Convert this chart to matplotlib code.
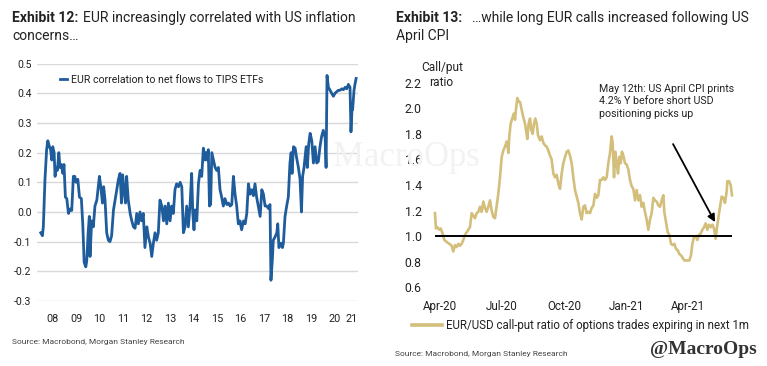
import matplotlib
matplotlib.use("Agg")
import matplotlib.pyplot as plt
import matplotlib.dates as mdates
import numpy as np
import pandas as pd

plt.rcParams['font.family'] = ['Roboto', 'DejaVu Sans']
NARROW = ['Liberation Sans Narrow', 'Roboto', 'DejaVu Sans']

blue = '#1f5c9c'
gold = '#d3bf7b'
text_color = '#222222'
grid_color = '#d9d9d9'

# ---- Exhibit 12 data: EUR correlation to TIPS ETF flows (decimal years) ----
corr_years = [
    2007.99, 2008.06, 2008.10, 2008.17, 2008.24, 2008.29, 2008.36, 2008.41, 2008.46, 2008.50,
    2008.56, 2008.60, 2008.64, 2008.70, 2008.76, 2008.81, 2008.87, 2008.93, 2008.98, 2009.04,
    2009.10, 2009.17, 2009.24, 2009.31, 2009.38, 2009.44, 2009.49, 2009.57, 2009.64, 2009.72,
    2009.78, 2009.84, 2009.91, 2009.95, 2010.01, 2010.06, 2010.09, 2010.16, 2010.23, 2010.30,
    2010.38, 2010.43, 2010.49, 2010.55, 2010.62, 2010.67, 2010.73, 2010.80, 2010.87, 2010.94,
    2011.01, 2011.09, 2011.16, 2011.23, 2011.30, 2011.37, 2011.43, 2011.48, 2011.54, 2011.60,
    2011.65, 2011.72, 2011.80, 2011.87, 2011.94, 2012.01, 2012.08, 2012.15, 2012.22, 2012.29,
    2012.36, 2012.43, 2012.51, 2012.58, 2012.65, 2012.72, 2012.79, 2012.86, 2012.93, 2013.00,
    2013.07, 2013.15, 2013.22, 2013.29, 2013.36, 2013.43, 2013.50, 2013.57, 2013.64, 2013.71,
    2013.78, 2013.86, 2013.93, 2014.00, 2014.07, 2014.14, 2014.21, 2014.28, 2014.35, 2014.42,
    2014.47, 2014.52, 2014.57, 2014.64, 2014.71, 2014.78, 2014.85, 2014.92, 2014.99, 2015.03,
    2015.09, 2015.13, 2015.18, 2015.23, 2015.28, 2015.35, 2015.42, 2015.49, 2015.56, 2015.63,
    2015.70, 2015.77, 2015.84, 2015.92, 2015.99, 2016.06, 2016.13, 2016.20, 2016.27, 2016.34,
    2016.41, 2016.48, 2016.55, 2016.63, 2016.70, 2016.77, 2016.84, 2016.91, 2016.98, 2017.05,
    2017.12, 2017.19, 2017.26, 2017.34, 2017.41, 2017.48, 2017.55, 2017.62, 2017.69, 2017.76,
    2017.80, 2017.86, 2017.90, 2017.97, 2018.05, 2018.09, 2018.14, 2018.22, 2018.29, 2018.33,
    2018.40, 2018.47, 2018.54, 2018.61, 2018.66, 2018.70, 2018.76, 2018.83, 2018.90, 2018.97,
    2019.04, 2019.10, 2019.15, 2019.21, 2019.30, 2019.35, 2019.41, 2019.47, 2019.54, 2019.61,
    2019.68, 2019.75, 2019.82, 2019.89, 2019.96, 2020.03, 2020.11, 2020.15, 2020.19, 2020.25,
    2020.32, 2020.39, 2020.46, 2020.53, 2020.60, 2020.67, 2020.74, 2020.82, 2020.89, 2020.96,
    2021.03, 2021.10, 2021.17, 2021.21, 2021.26, 2021.28, 2021.34, 2021.38, 2021.43,
]
corr_values = [
    -0.07, -0.08, -0.05, 0.11, 0.21, 0.24, 0.22, 0.21, 0.175, 0.22,
    0.20, 0.12, 0.15, 0.14, 0.20, 0.15, 0.16, 0.13, 0.16, 0.05,
    0.045, -0.005, 0.01, 0.005, 0.12, 0.12, 0.10, 0.11, 0.05, 0.045,
    -0.04, -0.17, -0.185, -0.165, -0.07, -0.015, -0.15, -0.03, -0.05, 0.02,
    0.04, 0.075, 0.12, 0.085, 0.03, 0.085, 0.04, -0.07, -0.095, -0.10,
    -0.08, 0.007, 0.04, 0.075, 0.11, 0.13, 0.03, 0.125, 0.075, 0.03,
    0.12, 0.04, -0.005, -0.03, -0.05, -0.055, -0.005, -0.04, 0.0, -0.03,
    -0.005, -0.12, -0.05, -0.085, -0.105, -0.15, -0.105, -0.07, -0.095, -0.07,
    0.04, 0.02, -0.03, 0.02, -0.04, 0.03, -0.03, 0.02, -0.005, 0.075,
    0.095, 0.085, 0.10, 0.085, -0.07, -0.05, 0.02, -0.05, 0.02, 0.13,
    -0.005, -0.06, 0.007, -0.03, 0.095, 0.14, 0.12, 0.215, 0.175, 0.20,
    0.175, 0.21, 0.02, 0.025, 0.20, 0.175, 0.15, 0.14, 0.15, 0.075,
    0.05, 0.02, 0.045, 0.025, 0.03, 0.02, 0.025, 0.12, 0.06, 0.02,
    -0.04, -0.03, -0.06, -0.03, -0.04, -0.005, 0.095, 0.06, 0.075, 0.055,
    0.095, 0.05, 0.02, -0.015, 0.075, 0.06, 0.02, 0.02, 0.012, 0.025,
    -0.23, -0.16, -0.095, -0.085, -0.07, -0.04, -0.12, -0.105, -0.12, -0.105,
    -0.015, 0.02, 0.05, 0.165, 0.20, 0.13, 0.22, 0.215, 0.18, 0.15,
    0.11, 0.0, 0.12, 0.15, 0.22, 0.15, 0.23, 0.265, 0.24, 0.165,
    0.22, 0.165, 0.17, 0.22, 0.255, 0.275, 0.25, 0.15, 0.46, 0.42,
    0.41, 0.40, 0.39, 0.40, 0.405, 0.41, 0.41, 0.415, 0.412, 0.42,
    0.415, 0.43, 0.42, 0.27, 0.355, 0.345, 0.41, 0.43, 0.45,
]
year_ticks = [2008.5, 2009.5, 2010.5, 2011.5, 2012.5, 2013.5, 2014.5, 2015.5,
              2016.5, 2017.5, 2018.5, 2019.5, 2020.5, 2021.24]
year_labels = ['08', '09', '10', '11', '12', '13', '14', '15',
               '16', '17', '18', '19', '20', '21']

# ---- Exhibit 13 data: EUR/USD call-put ratio (days after 1 Apr 2020) ----
cp_days = [
    -7.4, -5.9, -3.9, -1.0, 1.0, 3.9, 6.4, 9.8, 13.7, 17.2,
    19.6, 22.1, 24.5, 27.0, 29.4, 31.9, 34.3, 36.8, 39.2, 41.7,
    44.1, 46.6, 49.1, 51.5, 54.0, 56.4, 58.9, 61.3, 63.8, 66.2,
    68.7, 71.1, 73.6, 76.0, 78.5, 80.9, 83.4, 85.8, 88.3, 90.8,
    93.2, 95.7, 98.1, 99.1, 100.6, 102.0, 104.0, 106.9, 108.9, 110.4,
    111.8, 113.8, 115.8, 117.7, 120.2, 122.6, 125.1, 126.6, 128.5, 130.5,
    132.5, 134.4, 136.4, 138.3, 140.3, 142.3, 144.2, 147.2, 149.6, 152.1,
    154.5, 157.0, 159.4, 161.9, 164.3, 166.8, 169.2, 171.7, 174.2, 176.6,
    179.1, 181.5, 184.0, 186.4, 188.9, 191.3, 193.8, 196.2, 198.7, 201.1,
    203.6, 206.0, 208.5, 210.9, 213.4, 215.8, 218.3, 220.8, 223.2, 225.7,
    228.1, 230.6, 233.0, 235.5, 237.9, 240.4, 242.8, 245.3, 247.7, 250.2,
    252.6, 254.1, 256.1, 258.0, 260.0, 262.0, 263.9, 265.9, 267.8, 269.8,
    272.3, 274.7, 277.2, 279.6, 282.1, 284.5, 287.0, 289.4, 291.9, 294.3,
    296.8, 299.2, 301.7, 304.1, 306.6, 309.1, 311.5, 314.0, 316.4, 318.9,
    321.3, 323.8, 326.2, 328.7, 330.1, 332.6, 335.1, 337.5, 340.0, 342.4,
    344.9, 347.3, 349.8, 352.2, 354.7, 357.1, 359.6, 362.0, 364.5, 366.9,
    369.4, 371.4, 373.8, 376.3, 378.7, 381.2, 383.6, 386.1, 388.5, 391.0,
    393.4, 395.9, 398.3, 400.8, 403.2, 405.7, 407.7, 409.6, 412.1, 414.5,
    417.0, 419.4, 421.9, 422.9, 425.3, 427.8, 429.7,
]
cp_ratio = [
    1.18, 1.06, 1.07, 1.05, 1.06, 1.02, 0.97, 0.955, 0.94, 0.925,
    0.88, 0.93, 0.915, 0.94, 0.925, 0.94, 0.97, 1.01, 1.03, 1.05,
    1.07, 1.18, 1.16, 1.14, 1.18, 1.19, 1.23, 1.19, 1.27, 1.22,
    1.19, 1.23, 1.28, 1.20, 1.15, 1.14, 1.24, 1.33, 1.46, 1.62,
    1.67, 1.70, 1.74, 1.73, 1.65, 1.78, 1.88, 1.93, 1.96, 1.91,
    1.99, 2.08, 2.05, 2.05, 1.99, 1.93, 1.88, 1.83, 1.76, 1.88,
    1.92, 1.83, 1.80, 1.88, 1.92, 1.88, 1.79, 1.75, 1.78, 1.73,
    1.71, 1.70, 1.67, 1.63, 1.60, 1.49, 1.46, 1.48, 1.41, 1.37,
    1.49, 1.57, 1.62, 1.66, 1.67, 1.63, 1.57, 1.46, 1.36, 1.31,
    1.26, 1.18, 1.13, 1.23, 1.24, 1.18, 1.19, 1.18, 1.22, 1.24,
    1.33, 1.30, 1.32, 1.44, 1.44, 1.46, 1.44, 1.46, 1.57, 1.65,
    1.78, 1.73, 1.46, 1.66, 1.57, 1.49, 1.62, 1.57, 1.66, 1.63,
    1.57, 1.56, 1.52, 1.44, 1.39, 1.37, 1.28, 1.36, 1.28, 1.32,
    1.23, 1.26, 1.19, 1.13, 1.05, 1.13, 1.18, 1.30, 1.28, 1.27,
    1.24, 1.23, 1.28, 1.32, 1.19, 1.11, 1.03, 1.01, 0.94, 0.93,
    0.94, 0.90, 0.89, 0.86, 0.85, 0.83, 0.81, 0.81, 0.81, 0.81,
    0.85, 0.94, 0.995, 1.0, 0.97, 1.01, 1.02, 1.05, 1.07, 1.10,
    1.05, 1.09, 1.07, 1.09, 1.06, 0.98, 1.07, 1.14, 1.23, 1.31,
    1.30, 1.26, 1.35, 1.43, 1.43, 1.40, 1.32,
]
month_ticks = ['2020-04-01', '2020-07-01', '2020-10-01', '2021-01-01', '2021-04-01']

assert len(corr_years) == len(corr_values)
assert len(cp_days) == len(cp_ratio)

W, H = 767, 366
fig = plt.figure(figsize=(W / 100, H / 100), dpi=100, facecolor='white')


def px_box(x0, y0, x1, y1):
    return [x0 / W, 1 - y1 / H, (x1 - x0) / W, (y1 - y0) / H]


# ========= Exhibit 12 ========= #
ax1 = fig.add_axes(px_box(37, 63.6, 358, 301))
ax1.plot(corr_years, corr_values, color=blue, lw=2.0,
         label='EUR correlation to net flows to TIPS ETFs', zorder=3)
ax1.set_xlim(2007.83, 2021.51)
ax1.set_ylim(-0.3, 0.5)
ax1.set_yticks(np.arange(-0.3, 0.51, 0.1))
ax1.set_yticklabels([f'{v:.1f}' for v in np.arange(-0.3, 0.51, 0.1)])
ax1.set_xticks(year_ticks)
ax1.set_xticklabels(year_labels, family=NARROW)
ax1.grid(axis='y', color=grid_color, lw=1)
ax1.tick_params(length=0, labelsize=7.6, colors=text_color)
ax1.tick_params(axis='x', pad=9, labelsize=7.8)
ax1.tick_params(axis='y', pad=4)
for s in ax1.spines.values():
    s.set_visible(False)
leg1 = ax1.legend(loc='center left', bbox_to_anchor=(60 / W, 1 - 80 / H),
                  bbox_transform=fig.transFigure, frameon=False,
                  handlelength=0.7, handletextpad=0.3, fontsize=7.6,
                  borderaxespad=0, borderpad=0)
for t in leg1.get_texts():
    t.set_color(text_color)

# ========= Exhibit 13 ========= #
base = pd.Timestamp('2020-04-01')
cp_dates = base + pd.to_timedelta(cp_days, unit='D')
ax2 = fig.add_axes(px_box(430, 82.7, 740, 287.3))
ax2.plot(cp_dates, cp_ratio, color=gold, lw=1.9,
         label='EUR/USD call-put ratio of options trades expiring in next 1m')
ax2.hlines(1.0, cp_dates[0], cp_dates[-1], color='black', lw=1.4, zorder=3)
ax2.set_xlim(base + pd.Timedelta(days=-14.7), base + pd.Timedelta(days=441.5))
ax2.set_ylim(0.6, 2.2)
ax2.set_yticks(np.arange(0.6, 2.21, 0.2))
ax2.set_yticklabels([f'{v:.1f}' for v in np.arange(0.6, 2.21, 0.2)], family=NARROW)
ax2.set_xticks(pd.to_datetime(month_ticks))
ax2.xaxis.set_major_formatter(mdates.DateFormatter('%b-%y'))
for lab in ax2.get_xticklabels():
    lab.set_family(NARROW)
ax2.tick_params(length=0, labelsize=8.8, colors=text_color)
ax2.tick_params(axis='x', pad=9, labelsize=8.4)
ax2.tick_params(axis='y', pad=6)
for s in ax2.spines.values():
    s.set_visible(False)

ax2.annotate('', xy=(base + pd.Timedelta(days=404.7), 1.11),
             xytext=(base + pd.Timedelta(days=343), 1.72),
             arrowprops=dict(arrowstyle='-|>', color='black', lw=1.3,
                             mutation_scale=11, shrinkA=0, shrinkB=0))
fig.text(599 / W, 1 - 84 / H,
         'May 12th: US April CPI prints\n4.2% Y before short USD\npositioning picks up',
         family=NARROW, fontsize=7.7, color=text_color, va='top', ha='left',
         linespacing=1.3)

fig.text(421 / W, 1 - 67 / H, 'Call/put', family=NARROW, fontsize=8.6,
         color=text_color, va='center', ha='left')
fig.text(429 / W, 1 - 82 / H, 'ratio', family=NARROW, fontsize=8.6,
         color=text_color, va='center', ha='left')

leg2 = ax2.legend(loc='center left', bbox_to_anchor=(412 / W, 1 - 326 / H),
                  bbox_transform=fig.transFigure, frameon=False,
                  handlelength=2.6, handletextpad=0.35,
                  borderaxespad=0, borderpad=0, prop={'family': NARROW, 'size': 8.3})
leg2.get_lines()[0].set_linewidth(2.6)
for t in leg2.get_texts():
    t.set_color(text_color)

# ========= titles, sources, watermark ========= #
fig.text(12 / W, 1 - 18 / H, 'Exhibit 12:', fontsize=10, fontweight='bold',
         color=text_color, va='center')
fig.text(83 / W, 1 - 18 / H, 'EUR increasingly correlated with US inflation',
         fontsize=10, color=text_color, va='center')
fig.text(12 / W, 1 - 36 / H, 'concerns\u2026', fontsize=10, color=text_color, va='center')

fig.text(396 / W, 1 - 18 / H, 'Exhibit 13:', fontsize=10, fontweight='bold',
         color=text_color, va='center')
fig.text(472 / W, 1 - 18 / H, '\u2026while long EUR calls increased following US',
         fontsize=10, color=text_color, va='center')
fig.text(396 / W, 1 - 36 / H, 'April CPI', fontsize=10, color=text_color, va='center')

fig.text(12 / W, 1 - 342 / H, 'Source: Macrobond, Morgan Stanley Research',
         family=NARROW, fontsize=6, color='#444444', va='center')
fig.text(395 / W, 1 - 354 / H, 'Source: Macrobond, Morgan Stanley Research',
         family=NARROW, fontsize=6, color='#444444', va='center')

fig.text(757 / W, 1 - 349 / H, '@MacroOps', family=['Liberation Serif', 'DejaVu Serif'],
         fontsize=14, fontweight='bold', color='#333333', va='center', ha='right')
fig.text(406 / W, 1 - 158 / H, 'MacroOps', family=['Liberation Serif', 'DejaVu Serif'],
         fontsize=25, color='#f2f2f2', va='center', ha='center', zorder=0)

fig.savefig('out.png', dpi=100, facecolor='white')
